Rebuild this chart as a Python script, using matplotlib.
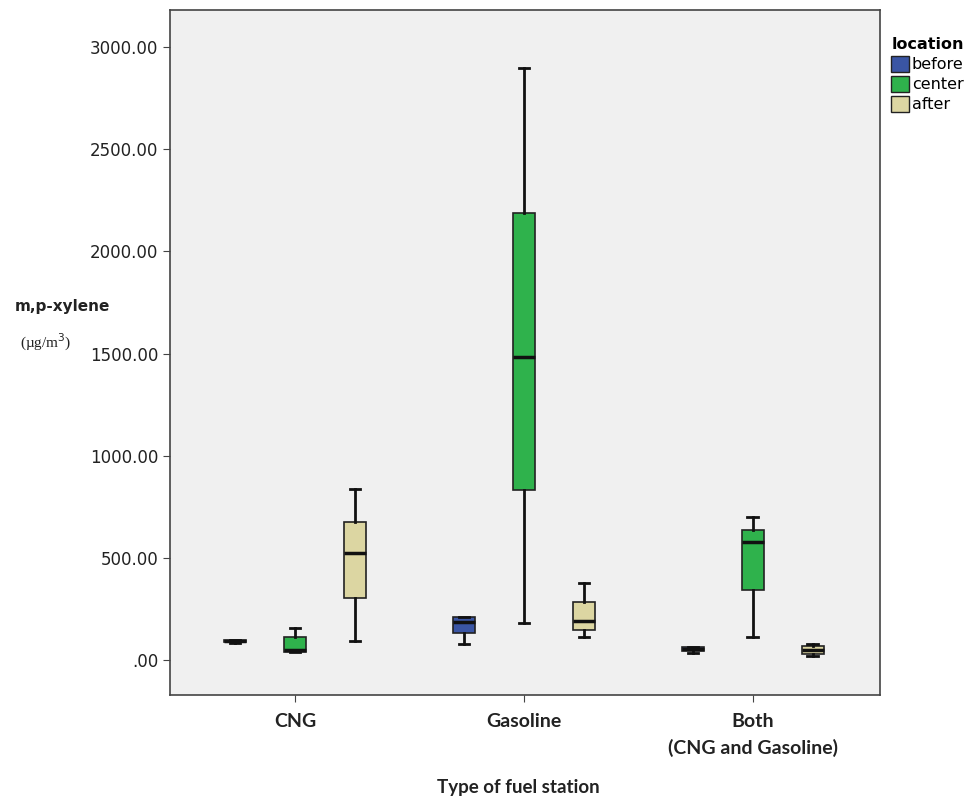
import numpy as np
import matplotlib
matplotlib.use('Agg')
from matplotlib import pyplot as plt
from matplotlib.patches import Patch

# fuel station types and sampling locations
stations = ['CNG', 'Gasoline', 'Both\n(CNG and Gasoline)']
locations = ['before', 'center', 'after']
colors = ['#3a55a4', '#2fb24c', '#dcd6a2']

# box statistics: whislo, q1, median, q3, whishi (ug/m3)
cng = [[85, 88, 92, 97, 100],
       [40, 40, 50, 113, 157],
       [93, 303, 524, 675, 837]]
gasoline = [[78, 132, 185, 210, 210],
            [181, 832, 1483, 2188, 2898],
            [113, 147, 191, 284, 377]]
both = [[35, 45, 55, 62, 65],
        [113, 343, 578, 636, 700],
        [20, 28, 50, 70, 80]]
all_stats = [cng, gasoline, both]

fig = plt.figure(figsize=(9.68, 7.98), dpi=100)
ax = fig.add_axes([170/968, 103/798, 710/968, 685/798])
ax.set_facecolor('#f0f0f0')

offset = 0.262
width = 0.095
for i, station in enumerate(all_stats):
    for j, s in enumerate(station):
        stats = [dict(whislo=s[0], q1=s[1], med=s[2], q3=s[3], whishi=s[4], fliers=[])]
        pos = i + (j - 1) * offset
        bp = ax.bxp(stats, positions=[pos], widths=width, patch_artist=True,
                    manage_ticks=False,
                    boxprops=dict(facecolor=colors[j], edgecolor='#222222', linewidth=1.2),
                    medianprops=dict(color='#111111', linewidth=2.5),
                    whiskerprops=dict(color='#111111', linewidth=2),
                    capprops=dict(color='#111111', linewidth=2),
                    capwidths=width * 0.5)

ax.set_xlim(-0.546, 2.555)
ax.set_ylim(-171, 3181)
ax.set_yticks(np.arange(0, 3001, 500))
ax.set_yticklabels(['.00'] + ['%.2f' % v for v in np.arange(500, 3001, 500)],
                   fontsize=12, color='#222222')
ax.set_xticks([0, 1, 2])
ax.set_xticklabels(stations, fontsize=14, fontweight='bold', family='Lato', color='#222222',
                   linespacing=1.6)
for sp in ax.spines.values():
    sp.set_color('#444444')
    sp.set_linewidth(1.2)
ax.tick_params(length=5, color='#444444')
ax.tick_params(axis='x', pad=8)

fig.text(437/968, 1 - 787/798, 'Type of fuel station', fontsize=13.5, fontweight='bold',
         family='Lato', va='center', ha='left', color='#222222')
fig.text(15/968, 1 - 307/798, 'm,p-xylene', fontsize=11, fontweight='bold',
         va='center', ha='left', color='#222222')
fig.text(20/968, 1 - 342/798, '(\u00b5g/m$^3$)', fontsize=11, family='Liberation Serif',
         va='center', ha='left', color='#222222')

handles = [Patch(facecolor=c, edgecolor='#222222', label=l) for c, l in zip(colors, locations)]
leg = fig.legend(handles=handles, loc='upper left', bbox_to_anchor=(880/968, 1 - 26/798),
                 frameon=False, title='location', fontsize=11.5, handlelength=1.1,
                 handleheight=1.1, handletextpad=0.2, labelspacing=0.25, borderpad=0.2,
                 alignment='left')
leg.get_title().set_fontweight('bold')
leg.get_title().set_fontsize(11.5)

fig.savefig('out.png', dpi=100, facecolor='white')
